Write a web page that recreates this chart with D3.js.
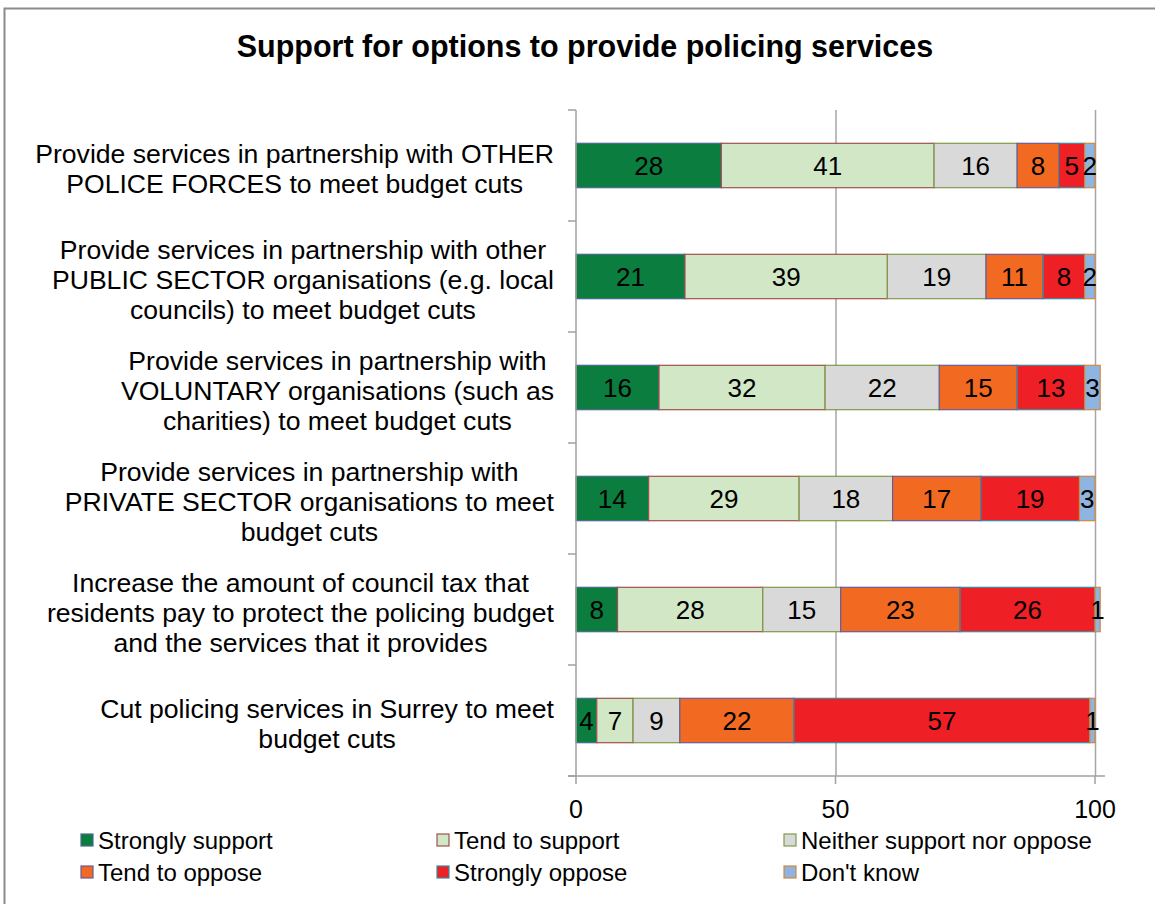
<!DOCTYPE html>
<html>
<head>
<meta charset="utf-8">
<script src="https://cdn.jsdelivr.net/npm/d3@7"></script>
<style>
  body { margin: 0; background: #fff; }
  svg text { font-family: "Liberation Sans", Arial, Helvetica, sans-serif; fill: #000; }
</style>
</head>
<body>
<svg id="chart" width="1155" height="904"></svg>
<script>
// ---- data ----
const title = "Support for options to provide policing services";
const categoryLines = [
  ["Provide services in partnership with OTHER", "POLICE FORCES to meet budget cuts"],
  ["Provide services in partnership with other", "PUBLIC SECTOR organisations (e.g. local", "councils) to meet budget cuts"],
  ["Provide services in partnership with", "VOLUNTARY organisations (such as", "charities) to meet budget cuts"],
  ["Provide services in partnership with", "PRIVATE SECTOR organisations to meet", "budget cuts"],
  ["Increase the amount of council tax that", "residents pay to protect the policing budget", "and the services that it provides"],
  ["Cut policing services in Surrey to meet", "budget cuts"]
];
const categories = categoryLines.map(l => l.join(" "));
const seriesNames = ["Strongly support", "Tend to support", "Neither support nor oppose",
                     "Tend to oppose", "Strongly oppose", "Don't know"];
const stronglySupport = [28, 21, 16, 14, 8, 4];
const tendToSupport   = [41, 39, 32, 29, 28, 7];
const neitherNor      = [16, 19, 22, 18, 15, 9];
const tendToOppose    = [8, 11, 15, 17, 23, 22];
const stronglyOppose  = [5, 8, 13, 19, 26, 57];
const dontKnow        = [2, 2, 3, 3, 1, 1];
const xTicks = [0, 50, 100];

const seriesValues = [stronglySupport, tendToSupport, neitherNor, tendToOppose, stronglyOppose, dontKnow];
const fills   = ["#0b7d3e", "#d1e7c6", "#d9d9d9", "#f26a22", "#ee1f25", "#8eb4e2"];
const strokes = ["#4a6a8c", "#a0504c", "#7f9a48", "#6a5a9c", "#3d8a9e", "#d4883c"];

// ---- layout ----
const svg = d3.select("#chart");
const W = 1155, H = 904;
const plot = { left: 576, right: 1095, top: 110, bottom: 776 };

svg.append("rect").attr("width", W).attr("height", H).attr("fill", "#fff");
// chart frame
svg.append("rect")
  .attr("x", 4.5).attr("y", 8.5).attr("width", W + 20).attr("height", H + 20)
  .attr("fill", "none").attr("stroke", "#8a8a8a").attr("stroke-width", 2);

svg.append("text")
  .attr("x", 585).attr("y", 57)
  .attr("text-anchor", "middle")
  .style("font-size", "30.5px").style("font-weight", "bold")
  .text(title);

const x = d3.scaleLinear().domain([0, 100]).range([plot.left, plot.right]);
const y = d3.scaleBand().domain(categories).range([plot.top, plot.bottom])
  .paddingInner(0.6).paddingOuter(0.3);

// rows for stacking
const rows = categories.map((c, i) => {
  const r = { category: c };
  seriesNames.forEach((s, j) => { r[s] = seriesValues[j][i]; });
  return r;
});
const stacked = d3.stack().keys(seriesNames)(rows);

// gridlines
svg.append("g").selectAll("line")
  .data(xTicks.filter(t => t > 0))
  .join("line")
  .attr("x1", d => x(d) + 0.5).attr("x2", d => x(d) + 0.5)
  .attr("y1", plot.top).attr("y2", plot.bottom)
  .attr("stroke", "#a6a6a6").attr("stroke-width", 1.5);

// bars
const layer = svg.append("g").selectAll("g")
  .data(stacked)
  .join("g");
layer.each(function (s, si) {
  d3.select(this).selectAll("rect")
    .data(s)
    .join("rect")
    .attr("x", d => x(d[0]))
    .attr("y", d => y(d.data.category))
    .attr("width", d => x(d[1]) - x(d[0]))
    .attr("height", y.bandwidth())
    .attr("fill", fills[si])
    .attr("stroke", strokes[si])
    .attr("stroke-width", 1.2);
});

// value labels
layer.each(function (s) {
  d3.select(this).selectAll("text")
    .data(s)
    .join("text")
    .attr("x", d => (x(d[0]) + x(d[1])) / 2)
    .attr("y", d => y(d.data.category) + y.bandwidth() / 2)
    .attr("dy", "0.36em")
    .attr("text-anchor", "middle")
    .style("font-size", "26px")
    .text(d => d[1] - d[0]);
});

// axes
const axisColor = "#a0a0a0";
const axes = svg.append("g").attr("stroke", axisColor).attr("stroke-width", 1.5);
axes.append("line").attr("x1", plot.left).attr("x2", plot.left)
  .attr("y1", plot.top).attr("y2", plot.bottom);
axes.append("line").attr("x1", plot.left - 8).attr("x2", plot.right + 10)
  .attr("y1", plot.bottom).attr("y2", plot.bottom);
// category separators on the vertical axis
const step = y.step();
const sepYs = d3.range(categories.length + 1).map(i => plot.top + i * step);
axes.selectAll(".ct").data(sepYs).join("line")
  .attr("x1", plot.left - 8).attr("x2", plot.left)
  .attr("y1", d => d).attr("y2", d => d);
// value ticks on the horizontal axis
axes.selectAll(".vt").data(xTicks).join("line")
  .attr("x1", d => x(d)).attr("x2", d => x(d))
  .attr("y1", plot.bottom).attr("y2", plot.bottom + 8);

svg.append("g").selectAll("text").data(xTicks).join("text")
  .attr("x", d => x(d)).attr("y", plot.bottom + 42)
  .attr("text-anchor", "middle")
  .style("font-size", "25px")
  .text(d => d);

// category labels: lines centred within a block aligned to the right
const labelRight = 554, lineH = 30;
categoryLines.forEach((lines, i) => {
  const cy = y(categories[i]) + y.bandwidth() / 2 + 3;
  const g = svg.append("g");
  const texts = lines.map((ln, k) =>
    g.append("text")
      .attr("y", cy + (k - (lines.length - 1) / 2) * lineH)
      .attr("dy", "0.36em")
      .attr("text-anchor", "middle")
      .style("font-size", "26.6px")
      .text(ln));
  const wMax = d3.max(texts, t => t.node().getComputedTextLength());
  texts.forEach(t => t.attr("x", labelRight - wMax / 2));
});

// legend
const legendCols = [81, 437, 784];
const legendRows = [840, 872];
const legend = svg.append("g");
seriesNames.forEach((name, i) => {
  const cx = legendCols[i % 3], cy = legendRows[Math.floor(i / 3)];
  legend.append("rect")
    .attr("x", cx).attr("y", cy - 6).attr("width", 12).attr("height", 12)
    .attr("fill", fills[i]).attr("stroke", strokes[i]).attr("stroke-width", 1.2);
  legend.append("text")
    .attr("x", cx + 17).attr("y", cy).attr("dy", "0.36em")
    .style("font-size", "24px")
    .text(name);
});
</script>
</body>
</html>
